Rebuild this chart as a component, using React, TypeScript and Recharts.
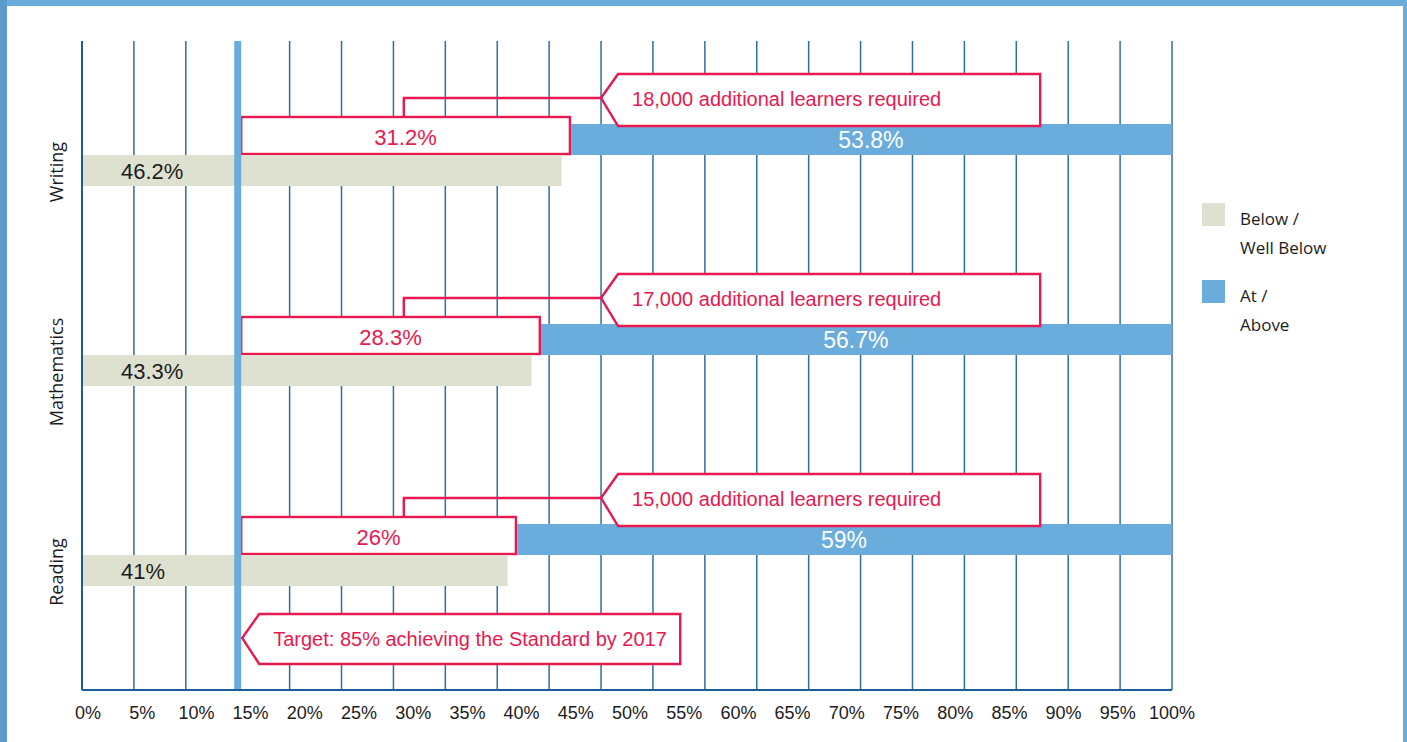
import React from 'react';
import { BarChart, Bar, XAxis, YAxis, CartesianGrid, ReferenceLine, Legend } from 'recharts';

// ---- data ----
const categories = ['Writing', 'Mathematics', 'Reading'];
const belowPct = [46.2, 43.3, 41];
const atAbovePct = [53.8, 56.7, 59];
const gapToTargetPct = [31.2, 28.3, 26];
const learnersRequired = ['18,000', '17,000', '15,000'];
const targetPct = 85;
const targetYear = 2017;
const xTickLabels = [0, 5, 10, 15, 20, 25, 30, 35, 40, 45, 50, 55, 60, 65, 70, 75, 80, 85, 90, 95, 100];
const gridTicks = [0, 5, 10, 15, 20, 25, 30, 35, 40, 45, 50, 55, 60, 65, 70, 75, 80, 85, 90, 95, 100, 105];

// ---- layout constants (in axis units) ----
const AXIS_MAX = 105;
const TARGET_POS = 100 - targetPct;
const BAR_SPLIT = 0.8;
const CONNECTOR_AT = 31;
const CALLOUT_TIP = 50;
const CALLOUT_END = 92.3;
const TARGET_LINE_W = 7;

const BLUE = '#6aacdc';
const BEIGE = '#dfe1d0';
const RED = '#e8194f';
const GRID = '#2f6ea5';
const AXIS = '#1b5d9c';
const INK = '#1c1c1c';
const COND = "'Liberation Sans', Arial, sans-serif";
const HUM = "'Open Sans', 'Noto Sans', sans-serif";

const data = categories.map((cat, i) => {
  const blueStart = belowPct[i] + BAR_SPLIT;
  return {
    cat,
    below: belowPct[i],
    base: TARGET_POS,
    gap: blueStart - TARGET_POS,
    blue: AXIS_MAX - blueStart,
    atAbove: atAbovePct[i],
    gapPct: gapToTargetPct[i],
    learners: learnersRequired[i],
  };
});

const RowTick = (props: any) => {
  const { x, y, payload } = props;
  const tx = x - 19;
  const ty = y + 17;
  return (
    <text x={tx} y={ty} transform={`rotate(-90, ${tx}, ${ty})`} textAnchor="middle" fill={INK} fontSize={18} fontFamily={HUM}>
      {payload.value}
    </text>
  );
};

const GapShape = (props: any) => {
  const { x, y, width, height, payload } = props;
  if (!width) return null;
  const left = x + TARGET_LINE_W / 2;
  const right = x + width;
  const top = y - 7;
  return (
    <g>
      <rect x={left} y={top} width={right - left} height={height + 6} fill="#fff" stroke={RED} strokeWidth={2.4} />
      <text x={(left + right) / 2} y={y + 21} textAnchor="middle" fill={RED} fontSize={22} fontFamily={COND}>
        {payload.gapPct}%
      </text>
    </g>
  );
};

const BlueShape = (props: any) => {
  const { x, y, width, height, payload } = props;
  if (!width) return null;
  const ppu = width / payload.blue;
  const px = (v: number) => x + width - (AXIS_MAX - v) * ppu;
  const connX = px(CONNECTOR_AT);
  const tipX = px(CALLOUT_TIP);
  const tipY = y - 26;
  const cl = tipX + 17;
  const cr = px(CALLOUT_END);
  const ct = y - 50;
  const cb = y + 2;
  return (
    <g>
      <rect x={x + 1.2} y={y} width={width - 1.2} height={height} fill={BLUE} />
      <text x={x + width / 2} y={y + 24} textAnchor="middle" fill="#fff" fontSize={23} fontFamily={COND}>
        {payload.atAbove}%
      </text>
      <polyline points={`${connX},${y - 7} ${connX},${tipY} ${tipX},${tipY}`} fill="none" stroke={RED} strokeWidth={2.4} />
      <polygon points={`${tipX},${tipY} ${cl},${ct} ${cr},${ct} ${cr},${cb} ${cl},${cb}`} fill="#fff" stroke={RED} strokeWidth={2.4} />
      <text x={cl + 14} y={y - 18} fill={RED} fontSize={20} fontFamily={COND}>
        {payload.learners} additional learners required
      </text>
    </g>
  );
};

const BelowShape = (props: any) => {
  const { x, y, width, height, payload } = props;
  return (
    <g>
      <rect x={x} y={y} width={width} height={height} fill={BEIGE} />
      <text x={x + 39} y={y + 24} fill={INK} fontSize={22} fontFamily={COND}>
        {payload.below}%
      </text>
    </g>
  );
};

const TargetCallout = (props: any) => {
  const vb = props.viewBox || {};
  const cx = vb.x;
  const bottom = vb.y + vb.height;
  const tipX = cx + 4.5;
  const tipY = bottom - 52;
  const bl = cx + 21.5;
  const br = cx + 442.5;
  const top = bottom - 76;
  const bot = bottom - 26;
  return (
    <g>
      <polygon points={`${tipX},${tipY} ${bl},${top} ${br},${top} ${br},${bot} ${bl},${bot}`} fill="#fff" stroke={RED} strokeWidth={2.4} />
      <text x={bl + 14} y={bottom - 44} fill={RED} fontSize={20} fontFamily={COND}>
        {`Target: ${targetPct}% achieving the Standard by ${targetYear}`}
      </text>
    </g>
  );
};

const LegendContent = (props: any) => {
  const items = (props.payload || []).filter((p: any) => p.type !== 'none').slice().reverse();
  return (
    <div style={{ position: 'relative', width: 200, height: 160, fontFamily: HUM, fontSize: 17, color: INK }}>
      {items.map((it: any, i: number) => {
        const s = String(it.value);
        const k = s.indexOf('/');
        const l1 = s.slice(0, k + 1);
        const l2 = s.slice(k + 1).trim();
        return (
          <div key={i}>
            <div style={{ position: 'absolute', left: 0, top: i * 77, width: 23, height: 23, background: it.color }} />
            <div style={{ position: 'absolute', left: 38, top: i * 77 + 1, lineHeight: '29px', whiteSpace: 'nowrap' }}>
              <div>{l1}</div>
              <div>{l2}</div>
            </div>
          </div>
        );
      })}
    </div>
  );
};

export default function App() {
  return (
    <div style={{ position: 'absolute', left: 0, top: 0, width: 1407, height: 742, background: BLUE, overflow: 'hidden' }}>
      <div style={{ position: 'absolute', left: 0, top: 0, width: 7, height: 742, background: '#5c9acb' }} />
      <div style={{ position: 'absolute', left: 7, top: 6, width: 1396, height: 736, background: '#fff' }} />
      <div style={{ position: 'absolute', left: 0, top: 0 }}>
        <BarChart
          width={1407}
          height={742}
          data={data}
          layout="vertical"
          barGap={0}
          barSize={31}
          margin={{ top: 41, right: 235, bottom: 0, left: 0 }}
          style={{ fontFamily: COND }}
        >
          <CartesianGrid horizontal={false} vertical stroke={GRID} strokeWidth={1.5} />
          <XAxis type="number" domain={[0, AXIS_MAX]} ticks={gridTicks} hide height={0} />
          <XAxis
            xAxisId="lbl"
            type="number"
            domain={[0, 100]}
            allowDataOverflow
            ticks={xTickLabels}
            interval={0}
            padding={{ left: 6, right: 0 }}
            tickFormatter={(v: number) => `${v}%`}
            tickLine={false}
            tickSize={6}
            tickMargin={10}
            axisLine={{ stroke: AXIS, strokeWidth: 2 }}
            height={52}
            tick={{ fill: INK, fontSize: 18, fontFamily: COND }}
          />
          <YAxis
            type="category"
            dataKey="cat"
            width={82}
            tickSize={0}
            tickMargin={0}
            tickLine={false}
            interval={0}
            axisLine={{ stroke: AXIS, strokeWidth: 2 }}
            tick={RowTick}
            padding={{ top: 14, bottom: 35 }}
          />
          <Bar dataKey="base" stackId="top" fill="transparent" legendType="none" isAnimationActive={false} />
          <Bar dataKey="gap" stackId="top" fill="#fff" legendType="none" shape={GapShape} isAnimationActive={false} />
          <Bar dataKey="blue" stackId="top" name="At / Above" fill={BLUE} shape={BlueShape} isAnimationActive={false} />
          <Bar dataKey="below" name="Below / Well Below" fill={BEIGE} shape={BelowShape} isAnimationActive={false} />
          <ReferenceLine x={TARGET_POS} stroke={BLUE} strokeWidth={TARGET_LINE_W} label={<TargetCallout />} />
          <Legend
            layout="vertical"
            align="center"
            verticalAlign="middle"
            content={LegendContent}
            wrapperStyle={{ left: 1202, top: 203, width: 200, height: 160 }}
          />
        </BarChart>
      </div>
    </div>
  );
}
